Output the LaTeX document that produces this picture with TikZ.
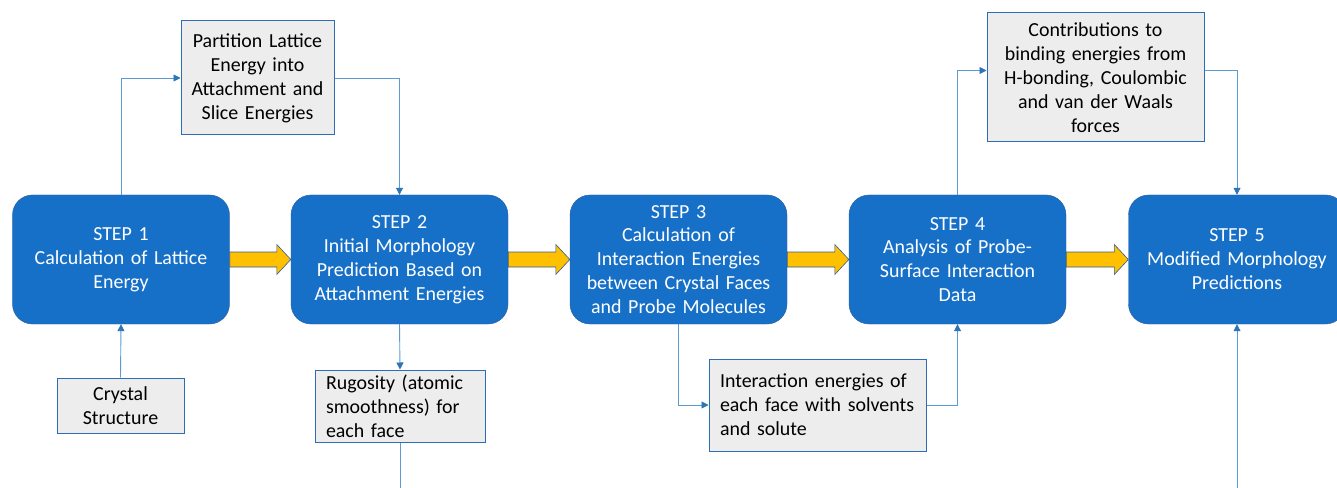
\documentclass[tikz,border=0pt]{standalone}
\usepackage{fontspec}
\setmainfont{Carlito}
\usetikzlibrary{arrows.meta,calc}
\definecolor{stepblue}{HTML}{1770C8}
\definecolor{stepedge}{HTML}{2F5C9A}
\definecolor{notegray}{HTML}{EDEDED}
\definecolor{noteedge}{HTML}{2E6DB4}
\definecolor{linkblue}{HTML}{5B9BD5}
\definecolor{tipblue}{HTML}{2E75B6}
\definecolor{arrowgold}{HTML}{FFC000}
\tikzset{
  stepbox/.style={draw=stepedge,fill=stepblue,text=white,rounded corners=20bp,
    minimum width=217bp,minimum height=129bp,text width=205bp,align=center,inner sep=0pt},
  notebox/.style={draw=noteedge,fill=notegray,text=black,inner sep=0pt,line width=1bp},
  link/.style={draw=linkblue,line width=0.9bp,-{Triangle[length=7bp,width=7bp,color=tipblue]}},
  bigarrow/.style={draw=stepedge,fill=arrowgold,line width=0.6bp}
}
\begin{document}
\begin{tikzpicture}[x=1bp,y=-1bp,font=\fontsize{20}{24}\selectfont]
\useasboundingbox (0,0) rectangle (1337,488);
\fill[white] (0,0) rectangle (1337,488);
% main steps
\node[stepbox] (s1) at (121,259.5) {STEP 1\\Calculation of Lattice\\Energy};
\node[stepbox] (s2) at (399.5,259.5) {STEP 2\\Initial Morphology\\Prediction Based on\\Attachment Energies};
\node[stepbox] (s3) at (678.5,259.5) {STEP 3\\Calculation of\\Interaction Energies\\between Crystal Faces\\and Probe Molecules};
\node[stepbox] (s4) at (957.5,259.5) {STEP 4\\Analysis of Probe-\\Surface Interaction\\Data};
\node[stepbox] (s5) at (1237,259.5) {STEP 5\\Modified Morphology\\Predictions};
% side notes
\node[notebox,minimum width=153bp,minimum height=114bp,text width=153bp,align=center] (part) at (257.5,78) {Partition Lattice\\Energy into\\Attachment and\\Slice Energies};
\node[notebox,minimum width=127bp,minimum height=55bp,text width=127bp,align=center] (cryst) at (120.5,405.5) {Crystal\\Structure};
\node[notebox,minimum width=170bp,minimum height=72bp,text width=148bp,align=left] (rug) at (400,406) {Rugosity (atomic\\smoothness) for\\each face};
\node[notebox,minimum width=217bp,minimum height=92bp,text width=195bp,align=left] (inter) at (817.5,405) {Interaction energies of\\each face with solvents\\and solute};
\node[notebox,minimum width=217bp,minimum height=129bp,text width=217bp,align=center] (contrib) at (1095.5,77.5) {Contributions to\\binding energies from\\H-bonding, Coulombic\\and van der Waals\\forces};
\coordinate (rugout) at (400,488);
\coordinate (s5in) at (1237,488);
% yellow arrows between steps
\foreach \a/\b in {s1/s2,s2/s3,s3/s4,s4/s5}
  \draw[bigarrow] ($(\a.east)+(0,-7.5)$) -- ($(\b.west)+(-14,-7.5)$) -- ++(0,-7.5) -- (\b.west)
    -- ++(-14,15) -- ++(0,-7.5) -- ($(\a.east)+(0,7.5)$) -- cycle;
% thin connectors
\draw[link] (s1.north) |- (part.west);
\draw[link] (part.east) -| (s2.north);
\draw[link] (cryst.north) -- (s1.south);
\draw[link] (s2.south) -- (rug.north);
\draw[draw=linkblue,line width=0.9bp] (rug.south) -- (rugout);
\draw[link] (s3.south) |- (inter.west);
\draw[link] (inter.east) -| (s4.south);
\draw[link] (s4.north) |- ([yshift=7bp]contrib.west);
\draw[link] ([yshift=7bp]contrib.east) -| (s5.north);
\draw[link] (s5in) -- (s5.south);
\end{tikzpicture}
\end{document}
